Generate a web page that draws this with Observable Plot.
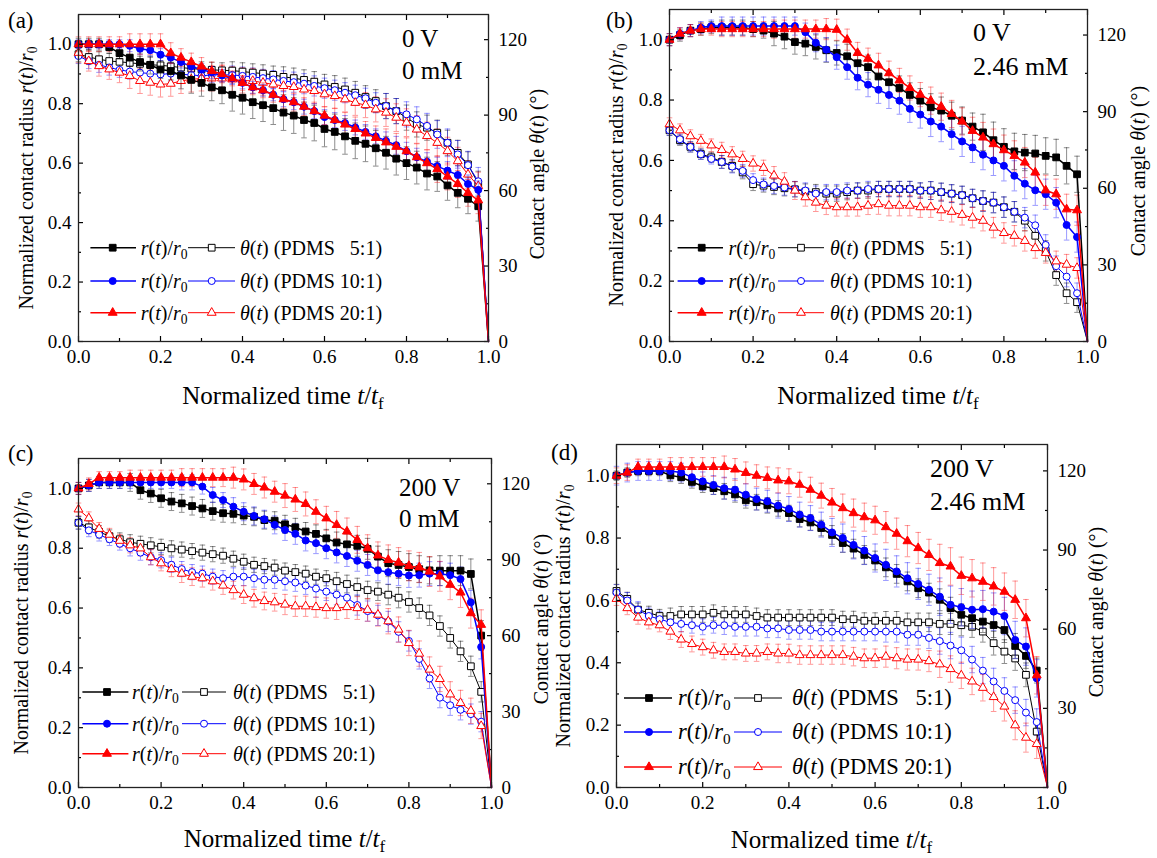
<!DOCTYPE html>
<html><head><meta charset="utf-8">
<script src="https://cdn.jsdelivr.net/npm/d3@7"></script>
<script src="https://cdn.jsdelivr.net/npm/@observablehq/plot@0.6"></script>
<style>
html,body{margin:0;padding:0;background:#fff;}
#root{position:relative;width:1157px;height:858px;overflow:hidden;font-family:'Liberation Serif','DejaVu Serif',serif;color:#000;background:#fff;}
#root svg, #root svg text{font-family:'Liberation Serif','DejaVu Serif',serif;}
.lbl{position:absolute;white-space:pre;line-height:1;font-family:'Liberation Serif','DejaVu Serif',serif;}
.lbl sub{font-size:0.68em;vertical-align:-0.32em;line-height:0;}
.ctr{transform:translate(-50%,-50%);}
.rot{transform:translate(-50%,-50%) rotate(-90deg);}
.mid{transform:translateY(-50%);}
</style></head><body><div id="root"></div><script>
// ---------- data ----------
const tt = [0,0.025,0.05,0.075,0.1,0.125,0.15,0.175,0.2,0.225,0.25,0.275,0.3,0.325,0.35,0.375,0.4,0.425,0.45,0.475,0.5,0.525,0.55,0.575,0.6,0.625,0.65,0.675,0.7,0.725,0.75,0.775,0.8,0.825,0.85,0.875,0.9,0.925,0.95,0.975];
const tEnd = 1.0;
const endValue = 0;
const xTicks = [0,0.2,0.4,0.6,0.8,1.0];
const xMinor = [0.1,0.3,0.5,0.7,0.9];
const rTicks = [0,0.2,0.4,0.6,0.8,1.0];
const rMinor = [0.1,0.3,0.5,0.7,0.9];
const thTicks = [0,30,60,90,120];
const thMinor = [15,45,75,105];
const seriesNames = ["PDMS   5:1","PDMS 10:1","PDMS 20:1"];
const panelTags = ["(a)","(b)","(c)","(d)"];
const notesA = ["0 V","0 mM"];
const notesB = ["0 V","2.46 mM"];
const notesC = ["200 V","0 mM"];
const notesD = ["200 V","2.46 mM"];

// panel (a) 0 V, 0 mM
const rA5  = [1.0,1.0,1.0,0.99,0.97,0.955,0.94,0.93,0.915,0.91,0.895,0.88,0.87,0.855,0.845,0.83,0.82,0.805,0.795,0.785,0.77,0.76,0.745,0.735,0.715,0.705,0.69,0.675,0.665,0.65,0.635,0.615,0.60,0.585,0.565,0.555,0.525,0.50,0.48,0.455];
const rA10 = [1.0,1.0,1.0,1.0,1.0,0.995,0.985,0.98,0.965,0.955,0.94,0.925,0.915,0.905,0.895,0.885,0.87,0.855,0.845,0.83,0.815,0.805,0.79,0.775,0.755,0.745,0.735,0.72,0.705,0.69,0.675,0.66,0.64,0.62,0.605,0.59,0.575,0.56,0.53,0.51];
const rA20 = [1.0,1.0,1.0,1.0,1.0,1.0,1.0,1.0,1.0,0.97,0.955,0.94,0.925,0.91,0.90,0.885,0.87,0.855,0.845,0.83,0.815,0.805,0.79,0.775,0.76,0.745,0.73,0.715,0.70,0.685,0.67,0.655,0.64,0.62,0.60,0.58,0.555,0.53,0.50,0.475];
const thA5  = [114.2,113.1,112.2,111.5,111.2,110.8,110.4,110.0,109.8,109.4,108.9,108.5,108.2,108.0,107.8,107.7,107.3,106.9,106.5,106.0,105.2,104.7,104.0,103.3,102.2,101.2,100.2,98.9,97.2,95.6,93.6,91.6,89.0,86.3,85.0,83.0,79.0,75.0,70.4,62.7];
const thA10 = [113.5,111.5,110.0,108.9,108.0,107.3,106.9,106.5,106.2,106.5,106.2,106.0,105.6,106.0,106.0,106.0,105.6,105.2,104.7,104.2,103.6,103.1,102.5,101.6,100.7,99.9,98.9,97.9,96.7,94.9,93.6,91.6,90.3,88.3,85.7,82.3,79.0,74.4,70.1,63.7];
const thA20 = [114.8,111.5,109.5,108.2,106.9,105.6,103.6,102.9,102.2,102.5,103.6,104.2,104.6,104.6,104.6,104.2,103.8,103.6,102.9,102.2,101.6,101.2,100.2,99.6,98.3,97.6,96.3,94.9,94.0,92.3,91.0,89.0,87.0,84.3,81.7,79.0,75.7,71.7,66.4,61.8];
const erA5 = [0.02,0.03,0.045,0.055,0.06,0.06,0.055,0.05];
const erA10 = [0.015,0.02,0.02,0.02,0.025,0.025,0.03,0.03];
const erA20 = [0.025,0.035,0.03,0.025,0.03,0.04,0.045,0.045];
const etA5 = [3,3,3,3.5,4,4.5,5,5];
const etA10 = [3,3,3,3.5,4,4,5,5.5];
const etA20 = [4,5,5,5,5,5,5.5,5.5];

// panel (b) 0 V, 2.46 mM
const rB5  = [1.0,1.015,1.03,1.035,1.04,1.04,1.04,1.04,1.035,1.03,1.02,1.01,0.992,0.987,0.976,0.965,0.956,0.945,0.922,0.909,0.878,0.859,0.84,0.817,0.798,0.776,0.765,0.748,0.732,0.712,0.693,0.667,0.645,0.63,0.626,0.623,0.615,0.61,0.582,0.554];
const rB10 = [1.0,1.02,1.03,1.04,1.045,1.045,1.045,1.045,1.045,1.045,1.045,1.045,1.045,1.025,0.99,0.967,0.942,0.909,0.874,0.851,0.834,0.817,0.798,0.771,0.752,0.729,0.712,0.687,0.663,0.643,0.619,0.60,0.582,0.549,0.523,0.501,0.488,0.46,0.386,0.346];
const rB20 = [1.0,1.02,1.03,1.035,1.035,1.035,1.035,1.035,1.035,1.035,1.035,1.035,1.035,1.035,1.035,1.035,1.033,1.0,0.956,0.937,0.915,0.889,0.865,0.84,0.818,0.798,0.778,0.754,0.729,0.698,0.676,0.654,0.634,0.615,0.593,0.56,0.501,0.488,0.438,0.435];
const thB5  = [82.7,78.8,76.2,73.4,72.1,70.3,68.8,66.2,61.6,61.0,60.5,60.0,59.6,58.7,58.5,57.9,57.9,58.5,59.1,59.1,59.7,59.7,59.7,59.7,59.1,59.1,58.5,57.9,57.3,56.1,55.0,54.4,52.6,50.8,47.3,41.4,35.5,26.0,18.9,15.4];
const thB10 = [82.7,79.2,76.2,73.3,71.5,70.3,68.5,66.8,63.2,61.5,60.9,60.3,59.7,59.1,57.9,58.5,58.5,59.1,59.1,59.7,59.7,59.7,59.7,59.7,59.1,59.1,58.5,57.9,57.3,56.1,55.0,54.4,52.6,50.8,48.5,45.5,37.8,29.5,25.4,18.9];
const thB20 = [85.1,82.7,80.4,78.6,76.8,75.0,73.3,71.5,69.7,68.0,65.0,62.6,59.1,56.5,54.4,53.2,52.6,52.6,52.6,53.2,53.8,53.2,53.2,53.2,52.6,52.6,51.4,50.8,49.6,48.5,47.3,44.6,42.5,41.4,39.4,36.6,34.7,31.4,30.1,28.8];
const erB5 = [0.02,0.025,0.04,0.04,0.04,0.045,0.06,0.06];
const erB10 = [0.02,0.03,0.03,0.04,0.045,0.05,0.05,0.05];
const erB20 = [0.02,0.025,0.03,0.035,0.04,0.045,0.05,0.05];
const etB5 = [2,2.5,3,3,3,3.5,4,4];
const etB10 = [2,2.5,3,3,3,3.5,4,4];
const etB20 = [2.5,3,3.5,3.5,4,4,4,4];

// panel (c) 200 V, 0 mM
const rC5  = [1.0,1.01,1.02,1.02,1.02,1.02,0.994,0.983,0.967,0.956,0.95,0.941,0.933,0.924,0.917,0.915,0.909,0.905,0.894,0.892,0.88,0.87,0.856,0.848,0.833,0.819,0.813,0.808,0.798,0.772,0.75,0.744,0.737,0.73,0.726,0.725,0.725,0.725,0.714,0.508];
const rC10 = [1.0,1.01,1.02,1.02,1.02,1.02,1.02,1.02,1.02,1.02,1.02,1.02,1.006,0.978,0.961,0.939,0.922,0.908,0.897,0.878,0.861,0.848,0.826,0.817,0.80,0.786,0.774,0.758,0.744,0.726,0.72,0.715,0.709,0.71,0.715,0.715,0.71,0.697,0.619,0.47];
const rC20 = [1.0,1.015,1.036,1.036,1.036,1.036,1.036,1.036,1.036,1.036,1.036,1.036,1.036,1.036,1.036,1.036,1.03,1.015,1.003,0.989,0.976,0.963,0.948,0.922,0.90,0.878,0.856,0.828,0.80,0.776,0.761,0.752,0.741,0.736,0.722,0.706,0.678,0.652,0.583,0.544];
const thC5  = [104.6,102.8,101.0,99.3,98.1,96.9,96.3,95.7,95.1,94.5,94.0,93.4,92.8,92.2,91.6,90.4,89.2,88.0,87.5,86.9,85.7,85.1,84.5,83.3,82.7,81.5,80.4,79.2,78.0,77.4,76.2,75.0,73.3,70.9,68.0,63.8,59.1,53.8,47.9,37.8];
const thC10 = [104.6,101.6,99.9,98.1,96.3,94.5,92.8,91.0,89.8,88.0,86.3,85.1,84.5,83.3,82.7,83.3,83.3,82.7,82.1,82.1,81.5,81.0,79.8,78.6,77.4,76.2,75.0,72.1,69.7,68.0,65.6,61.5,57.9,50.8,43.1,35.5,32.5,30.7,29.0,26.0];
const thC20 = [109.9,106.4,102.2,99.9,97.5,95.7,94.5,91.0,88.6,86.3,84.5,83.3,82.7,81.5,79.8,78.0,76.2,74.8,73.7,73.2,72.3,71.6,71.6,71.3,70.9,70.9,71.3,70.9,70.2,68.3,65.7,62.4,57.1,52.9,46.6,42.9,36.8,33.4,30.3,24.3];
const erC5 = [0.02,0.03,0.03,0.03,0.03,0.035,0.045,0.05];
const erC10 = [0.02,0.02,0.025,0.03,0.035,0.035,0.04,0.04];
const erC20 = [0.02,0.025,0.03,0.035,0.04,0.045,0.05,0.05];
const etC5 = [2.5,3,3,3,3,3.5,4,4];
const etC10 = [2.5,3,3,3.5,3.5,4,4,4];
const etC20 = [2.5,3,3.5,3.5,4,4.5,5,5];

// panel (d) 200 V, 2.46 mM
const rD5  = [1.0,1.01,1.015,1.015,1.015,1.001,0.995,0.98,0.966,0.96,0.95,0.94,0.921,0.915,0.905,0.895,0.88,0.861,0.85,0.832,0.81,0.784,0.766,0.746,0.728,0.706,0.685,0.661,0.639,0.625,0.602,0.575,0.554,0.543,0.532,0.521,0.505,0.454,0.422,0.375];
const rD10 = [1.0,1.01,1.015,1.015,1.015,1.015,1.01,0.995,0.982,0.97,0.96,0.955,0.939,0.925,0.918,0.904,0.893,0.875,0.864,0.843,0.818,0.80,0.778,0.76,0.736,0.714,0.693,0.671,0.653,0.634,0.612,0.586,0.578,0.57,0.572,0.564,0.55,0.473,0.452,0.35];
const rD20 = [1.0,1.01,1.028,1.028,1.028,1.028,1.028,1.028,1.028,1.028,1.028,1.02,1.009,1.0,0.993,0.985,0.982,0.971,0.955,0.936,0.914,0.896,0.88,0.867,0.857,0.835,0.814,0.79,0.768,0.746,0.72,0.709,0.679,0.671,0.66,0.645,0.628,0.602,0.543,0.36];
const thD5  = [74.5,71.5,67.4,66.2,65.0,65.0,65.6,65.6,65.6,66.2,65.6,65.6,65.6,65.0,64.4,64.4,64.4,64.4,64.4,64.4,64.4,63.8,63.8,63.2,63.2,63.2,63.2,62.6,62.6,62.6,62.0,62.0,61.5,60.9,59.1,54.7,51.5,48.9,42.7,21.2];
const thD10 = [73.9,70.9,67.4,65.0,63.8,62.6,62.0,61.5,60.9,61.5,61.5,60.9,60.9,60.9,60.3,60.3,59.7,59.7,59.7,59.1,59.1,59.1,59.1,59.1,59.1,59.1,59.1,57.9,57.9,56.7,55.5,53.8,52.0,48.5,44.3,40.2,36.6,33.1,28.4,24.8];
const thD20 = [71.5,68.0,64.4,62.6,61.5,59.1,56.1,54.4,53.2,52.0,51.4,51.4,50.8,50.8,51.4,50.8,50.8,50.2,50.2,50.2,50.2,50.2,49.6,49.0,49.0,49.6,49.0,48.5,48.5,47.9,46.7,44.9,42.5,40.2,37.8,34.3,30.7,23.6,18.9,16.5];
const erD5 = [0.015,0.02,0.025,0.025,0.03,0.03,0.035,0.04];
const erD10 = [0.03,0.03,0.035,0.04,0.045,0.05,0.06,0.06];
const erD20 = [0.025,0.03,0.035,0.04,0.045,0.05,0.06,0.06];
const etD5 = [2.5,3,3,3,3,3.5,4,4.5];
const etD10 = [3,3,3.5,3.5,3.5,4,5,5];
const etD20 = [2.5,3,3,3.5,3.5,4,5,5.5];

// ---------- styling / layout ----------
const colors = ["#000000","#0000ff","#ff0000"];
const symbols = ["square","circle","triangle"];
const markR = [3.8,3.5,3.3];
const FONT = "'Liberation Serif','DejaVu Serif',serif";
const W = 1157, H = 858;

const panels = [
  {tag:panelTags[0], notes:notesA, r:[rA5,rA10,rA20], th:[thA5,thA10,thA20], er:[erA5,erA10,erA20], et:[etA5,etA10,etA20],
   L:78,R:488,T:14,B:341, tagX:8,tagY:20, nX:402,nY:[38,70],nS:25, lt:26, rtX:537, btY:395,
   leg:{rows:[-93.3,-60,-28.3], xs:[12.4,34.7,58,62.7,110,133.7,157,162], fs:20}},
  {tag:panelTags[1], notes:notesB, r:[rB5,rB10,rB20], th:[thB5,thB10,thB20], er:[erB5,erB10,erB20], et:[etB5,etB10,etB20],
   L:669,R:1087,T:9,B:341, tagX:606,tagY:20, nX:973,nY:[33,67],nS:26, lt:616, rtX:1138, btY:395,
   leg:{rows:[-93.3,-60,-28.3], xs:[8.6,32.7,54,59.5,109,132,155,161], fs:20}},
  {tag:panelTags[2], notes:notesC, r:[rC5,rC10,rC20], th:[thC5,thC10,thC20], er:[erC5,erC10,erC20], et:[etC5,etC10,etC20],
   L:78,R:491,T:458,B:787, tagX:8,tagY:453, nX:399,nY:[487,518],nS:25, lt:21, rtX:541, btY:838,
   leg:{rows:[-95,-63.3,-33.3], xs:[4.4,29,50.4,54,104,126,148,155], fs:20}},
  {tag:panelTags[3], notes:notesD, r:[rD5,rD10,rD20], th:[thD5,thD10,thD20], er:[erD5,erD10,erD20], et:[etD5,etD10,etD20],
   L:616,R:1047,T:444,B:787, tagX:551,tagY:452, nX:930,nY:[469,502],nS:26, lt:563, rtX:1096, btY:839,
   leg:{rows:[-89,-55,-20], xs:[8,33,56,62,118,142,166,176], fs:22.5}}
];

const capSymbol = {draw(ctx, size){ const w = Math.sqrt(size/Math.PI); ctx.moveTo(-w,0); ctx.lineTo(w,0); }};

function buildPlot(p, kind) {
  const isR = kind === "r";
  const vals = isR ? p.r : p.th;
  const errs = isR ? p.er : p.et;
  const sets = vals.map((arr, s) => arr.map((v, i) => ({t: tt[i], v, e: errs[s][Math.floor(i/5)]})));
  const marks = [];
  sets.forEach((d, s) => {
    const c = colors[s];
    const eo = s === 0 ? 0.45 : 0.4;
    marks.push(Plot.ruleX(d, {x:"t", y1: q => q.v - q.e, y2: q => q.v + q.e, stroke: c, strokeOpacity: eo, strokeWidth: 1}));
    marks.push(Plot.dot(d, {x:"t", y: q => q.v + q.e, symbol: capSymbol, r: 2.8, stroke: c, strokeOpacity: eo, strokeWidth: 1, fill: "none"}));
    marks.push(Plot.dot(d, {x:"t", y: q => q.v - q.e, symbol: capSymbol, r: 2.8, stroke: c, strokeOpacity: eo, strokeWidth: 1, fill: "none"}));
  });
  sets.forEach((d, s) => {
    const c = colors[s];
    marks.push(Plot.line(d.concat([{t: tEnd, v: endValue}]), {x:"t", y:"v", stroke: c, strokeWidth: isR ? 1.5 : 1}));
    marks.push(Plot.dot(d, {x:"t", y:"v", symbol: symbols[s], r: markR[s], fill: isR ? c : "white", stroke: c, strokeWidth: 1}));
  });
  if (isR) {
    marks.push(
      Plot.axisX({anchor:"bottom", ticks:xTicks, tickSize:-5, tickPadding:13, tickFormat: d => d.toFixed(1), label:null, strokeWidth:1.2}),
      Plot.axisX({anchor:"bottom", ticks:xMinor, tickSize:-3, fill:"none", label:null, strokeWidth:1.2}),
      Plot.axisX({anchor:"top", ticks:xTicks, tickSize:-5, fill:"none", label:null, strokeWidth:1.2}),
      Plot.axisX({anchor:"top", ticks:xMinor, tickSize:-3, fill:"none", label:null, strokeWidth:1.2}),
      Plot.axisY({anchor:"left", ticks:rTicks, tickSize:-5, tickPadding:12, tickFormat: d => d.toFixed(1), label:null, strokeWidth:1.2}),
      Plot.axisY({anchor:"left", ticks:rMinor, tickSize:-3, fill:"none", label:null, strokeWidth:1.2}),
      Plot.frame({stroke:"#222", strokeWidth:1.3})
    );
  } else {
    marks.push(
      Plot.axisY({anchor:"right", ticks:thTicks, tickSize:-5, tickPadding:15, tickFormat: d => String(d), label:null, strokeWidth:1.2}),
      Plot.axisY({anchor:"right", ticks:thMinor, tickSize:-3, fill:"none", label:null, strokeWidth:1.2})
    );
  }
  const svg = Plot.plot({
    width: W, height: H,
    marginLeft: p.L, marginRight: W - p.R, marginTop: p.T, marginBottom: H - p.B,
    x: {domain:[0,1], axis:null},
    y: {domain: isR ? [0,1.1] : [0,130], axis:null},
    style: {background:"transparent", fontFamily: FONT, fontSize:"19px", color:"#000", overflow:"visible"},
    marks
  });
  svg.style.position = "absolute";
  svg.style.left = "0px";
  svg.style.top = "0px";
  svg.style.maxWidth = "none";
  svg.style.fontFamily = FONT;
  svg.setAttribute("font-family", FONT);
  return svg;
}

const root = document.getElementById("root");
panels.forEach(p => { root.appendChild(buildPlot(p, "theta")); root.appendChild(buildPlot(p, "r")); });

// legend graphics
const lg = d3.select(root).append("svg").attr("width", W).attr("height", H)
  .style("position","absolute").style("left","0px").style("top","0px");
const d3sym = [d3.symbolSquare, d3.symbolCircle, d3.symbolTriangle];

function addLabel(html, x, y, size, cls) {
  const el = document.createElement("div");
  el.className = "lbl " + (cls || "");
  el.style.left = x + "px";
  el.style.top = y + "px";
  el.style.fontSize = size + "px";
  el.innerHTML = html;
  root.appendChild(el);
  return el;
}

const rHTML = '<i>r</i>(<i>t</i>)/<i>r</i><sub>0</sub>';
panels.forEach(p => {
  const g = p.leg;
  g.rows.forEach((dy, s) => {
    const y = p.B + dy;
    const xs = g.xs.map(v => p.L + v);
    const c = colors[s];
    lg.append("line").attr("x1", xs[0]).attr("x2", xs[2]).attr("y1", y).attr("y2", y).attr("stroke", c).attr("stroke-width", 1.5);
    lg.append("path").attr("d", d3.symbol(d3sym[s], Math.PI*markR[s]*markR[s])()).attr("transform", `translate(${xs[1]},${y})`).attr("fill", c).attr("stroke", c);
    lg.append("line").attr("x1", xs[4]).attr("x2", xs[6]).attr("y1", y).attr("y2", y).attr("stroke", c).attr("stroke-width", 1);
    lg.append("path").attr("d", d3.symbol(d3sym[s], Math.PI*markR[s]*markR[s])()).attr("transform", `translate(${xs[5]},${y})`).attr("fill", "white").attr("stroke", c);
    addLabel(rHTML, xs[3], y, g.fs, "mid");
    addLabel('<i>θ</i>(<i>t</i>) (' + seriesNames[s] + ')', xs[7], y, g.fs, "mid");
  });
  // panel tag & annotations
  addLabel(p.tag, p.tagX, p.tagY, 23, "mid");
  addLabel(p.notes[0], p.nX, p.nY[0], p.nS, "mid");
  addLabel(p.notes[1], p.nX, p.nY[1], p.nS, "mid");
  // axis titles
  const cy = (p.T + p.B) / 2;
  addLabel('Normalized contact radius ' + rHTML, p.lt, cy, 20, "rot");
  addLabel('Contact angle <i>θ</i>(<i>t</i>) (°)', p.rtX, cy - 4, 20, "rot");
  addLabel('Normalized time <i>t</i>/<i>t</i><sub>f</sub>', (p.L + p.R) / 2, p.btY, 25, "ctr");
});
</script></body></html>
